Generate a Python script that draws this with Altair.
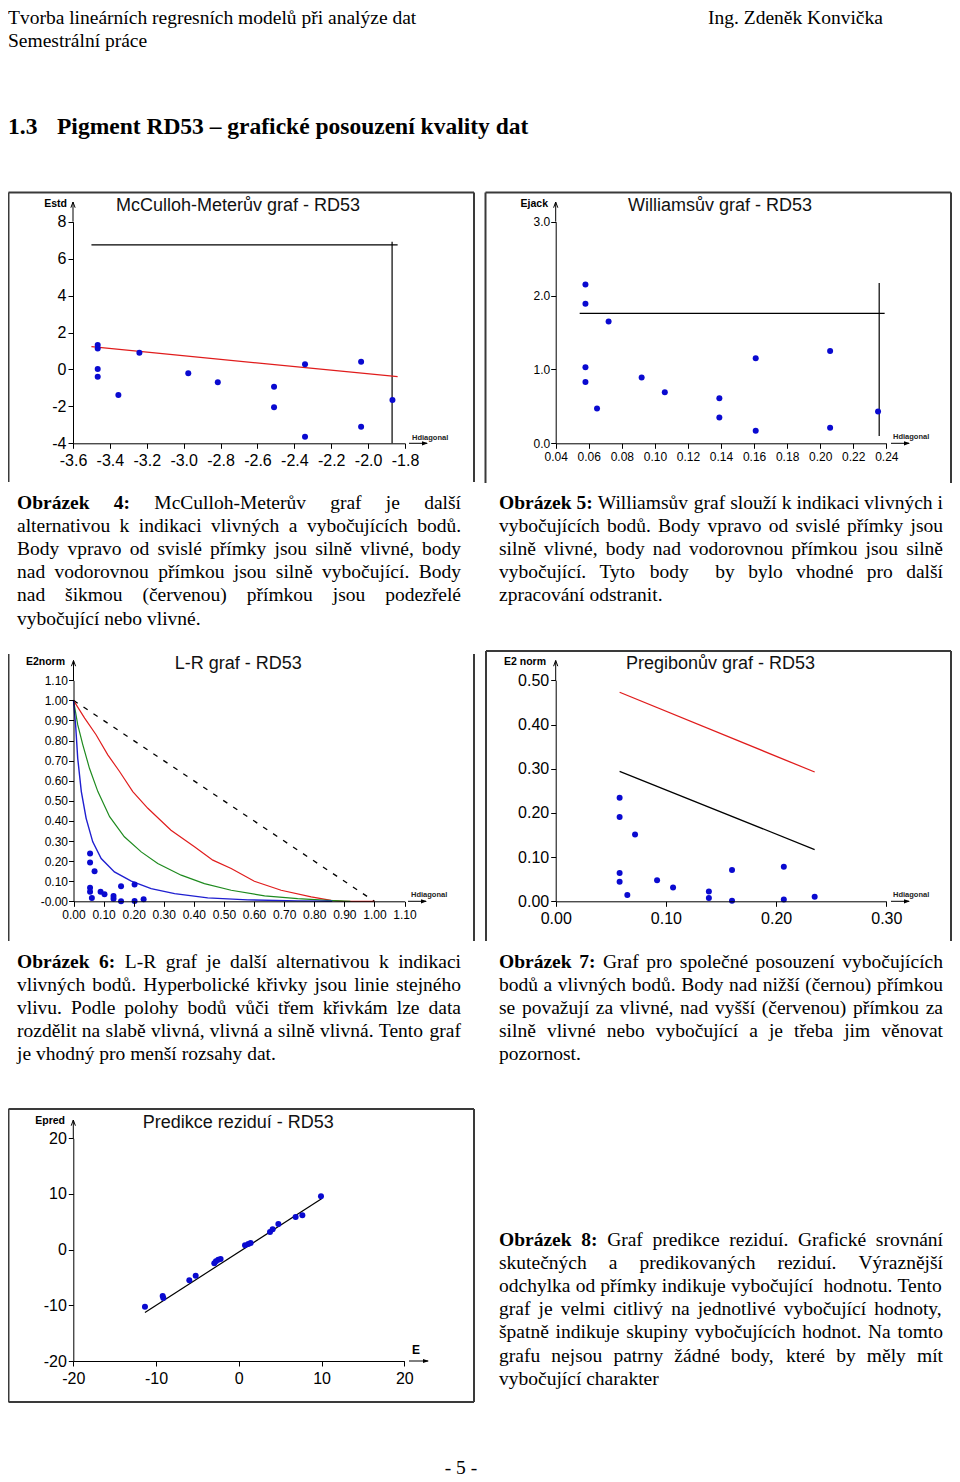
import unicodedata
import altair as alt
import pandas as pd

# ------------------------------------------------------------------ data
# Obrazek 4 - McCulloh-Meter plot
mc_hat = [-3.466, -3.466, -3.466, -3.466, -3.354, -3.240, -2.975, -2.815,
          -2.510, -2.510, -2.342, -2.342, -2.038, -2.038, -1.868]
mc_estd = [1.32, 1.14, 0.02, -0.39, -1.39, 0.90, -0.21, -0.70,
           -0.94, -2.05, 0.28, -3.64, 0.42, -3.10, -1.66]
mc_red_hat = [-3.50, -1.84]
mc_red_estd = [1.23, -0.39]
mc_hlim_hat = [-3.50, -1.84]
mc_hlim_estd = [6.74, 6.74]
mc_vlim_hat = [-1.87, -1.87]
mc_vlim_estd = [-4.0, 6.91]
mc_xticks = [-3.6, -3.4, -3.2, -3.0, -2.8, -2.6, -2.4, -2.2, -2.0, -1.8]
mc_yticks = [-4, -2, 0, 2, 4, 6, 8]

# Obrazek 5 - Williams plot
wi_hat = [0.058, 0.058, 0.058, 0.058, 0.065, 0.072, 0.092, 0.106,
          0.139, 0.139, 0.161, 0.161, 0.206, 0.206, 0.235]
wi_ejack = [2.15, 1.89, 1.03, 0.83, 0.47, 1.65, 0.89, 0.69,
            0.61, 0.35, 1.15, 0.17, 1.25, 0.21, 0.43]
wi_hlim_hat = [0.0545, 0.239]
wi_hlim_e = [1.76, 1.76]
wi_vlim_hat = [0.2357, 0.2357]
wi_vlim_e = [0.10, 2.17]
wi_xticks = [0.04, 0.06, 0.08, 0.10, 0.12, 0.14, 0.16, 0.18, 0.20, 0.22, 0.24]
wi_yticks = [0.0, 1.0, 2.0, 3.0]

# Obrazek 6 - L-R plot
lr_hat = [0.055, 0.055, 0.070, 0.055, 0.055, 0.061, 0.090, 0.103,
          0.133, 0.133, 0.158, 0.158, 0.203, 0.203, 0.233]
lr_e2 = [0.238, 0.193, 0.150, 0.068, 0.047, 0.017, 0.047, 0.035,
         0.027, 0.013, 0.075, 0.000, 0.083, 0.002, 0.010]
lr_red_h = [0.0, 0.037, 0.075, 0.114, 0.153, 0.197, 0.247, 0.324, 0.402,
            0.463, 0.524, 0.601, 0.690, 0.790, 0.856, 0.900, 1.000]
lr_red_e = [1.0, 0.912, 0.829, 0.729, 0.646, 0.546, 0.463, 0.354, 0.271,
            0.205, 0.163, 0.100, 0.055, 0.022, 0.005, 0.0, 0.0]
lr_green_h = [0.0, 0.014, 0.031, 0.053, 0.081, 0.120, 0.169, 0.225, 0.280,
              0.358, 0.435, 0.524, 0.635, 0.745, 0.845, 0.920]
lr_green_e = [1.0, 0.879, 0.779, 0.662, 0.546, 0.421, 0.321, 0.246, 0.188,
              0.130, 0.088, 0.055, 0.027, 0.013, 0.005, 0.0]
lr_blue_h = [0.0, 0.007, 0.014, 0.026, 0.042, 0.064, 0.092, 0.136, 0.192,
             0.258, 0.336, 0.446, 0.579, 0.745, 0.860]
lr_blue_e = [1.0, 0.879, 0.712, 0.546, 0.413, 0.296, 0.213, 0.146, 0.100,
             0.063, 0.038, 0.017, 0.007, 0.002, 0.0]
lr_dash_h = [0.0, 1.0]
lr_dash_e = [1.0, 0.0]
lr_ticks = [0.0, 0.1, 0.2, 0.3, 0.4, 0.5, 0.6, 0.7, 0.8, 0.9, 1.0, 1.1]

# Obrazek 7 - Pregibon plot
pr_hat = [0.058, 0.058, 0.058, 0.058, 0.065, 0.072, 0.092, 0.1065,
          0.139, 0.139, 0.160, 0.160, 0.207, 0.207, 0.235]
pr_e2 = [0.2345, 0.191, 0.064, 0.044, 0.014, 0.151, 0.0475, 0.031,
         0.022, 0.0075, 0.071, 0.001, 0.078, 0.004, 0.0105]
pr_red_h = [0.058, 0.235]
pr_red_e = [0.473, 0.2925]
pr_black_h = [0.058, 0.235]
pr_black_e = [0.294, 0.117]
pr_xticks = [0.0, 0.1, 0.2, 0.3]
pr_yticks = [0.0, 0.1, 0.2, 0.3, 0.4, 0.5]

# Obrazek 8 - residual prediction
pe_e = [-11.34, -9.20, -9.12, -5.98, -5.21, -2.96, -2.76, -2.48, -2.20,
        0.75, 1.15, 1.43, 3.77, 4.09, 4.78, 6.87, 7.68, 9.93]
pe_pred = [-10.24, -8.33, -8.69, -5.51, -4.67, -2.46, -2.10, -1.80, -1.68,
           0.77, 1.01, 1.19, 3.17, 3.65, 4.61, 5.87, 6.17, 9.57]
pe_line_e = [-11.34, 10.0]
pe_line_pred = [-11.3, 9.16]
pe_ticks = [-20, -10, 0, 10, 20]

# page texts
header_left = ["Tvorba lineárních regresních modelů při analýze dat", "Semestrální práce"]
header_right = "Ing. Zdeněk Konvička"
heading_num = "1.3"
heading_text = "Pigment RD53 – grafické posouzení kvality dat"
footer = "- 5 -"
titles = ["McCulloh-Meterův graf - RD53", "Williamsův graf - RD53", "L-R graf - RD53",
          "Pregibonův graf - RD53", "Predikce reziduí - RD53"]
ylabels = ["Estd", "Ejack", "E2norm", "E2 norm", "Epred"]
cap4 = [("Obrázek 4:", "McCulloh-Meterův graf je další"),
        ("", "alternativou k indikaci vlivných a vybočujících bodů."),
        ("", "Body vpravo od svislé přímky jsou silně vlivné, body"),
        ("", "nad vodorovnou přímkou jsou silně vybočující. Body"),
        ("", "nad šikmou (červenou) přímkou jsou podezřelé"),
        ("", "vybočující nebo vlivné.")]
cap5 = [("Obrázek 5:", "Williamsův graf slouží k indikaci vlivných i"),
        ("", "vybočujících bodů. Body vpravo od svislé přímky jsou"),
        ("", "silně vlivné, body nad vodorovnou přímkou jsou silně"),
        ("", "vybočující. Tyto body  by bylo vhodné pro další"),
        ("", "zpracování odstranit.")]
cap6 = [("Obrázek 6:", "L-R graf je další alternativou k indikaci"),
        ("", "vlivných bodů. Hyperbolické křivky jsou linie stejného"),
        ("", "vlivu. Podle polohy bodů vůči třem křivkám lze data"),
        ("", "rozdělit na slabě vlivná, vlivná a silně vlivná. Tento graf"),
        ("", "je vhodný pro menší rozsahy dat.")]
cap7 = [("Obrázek 7:", "Graf pro společné posouzení vybočujících"),
        ("", "bodů a vlivných bodů. Body nad nižší (černou) přímkou"),
        ("", "se považují za vlivné, nad vyšší (červenou) přímkou za"),
        ("", "silně vlivné nebo vybočující a je třeba jim věnovat"),
        ("", "pozornost.")]
cap8 = [("Obrázek 8:", "Graf predikce reziduí. Grafické srovnání"),
        ("", "skutečných a predikovaných reziduí. Výraznější"),
        ("", "odchylka od přímky indikuje vybočující  hodnotu. Tento"),
        ("", "graf je velmi citlivý na jednotlivé vybočující hodnoty,"),
        ("", "špatně indikuje skupiny vybočujících hodnot. Na tomto"),
        ("", "grafu nejsou patrny žádné body, které by měly mít"),
        ("", "vybočující charakter")]

# ------------------------------------------------------------------ styling
W, H = 944, 1474
SERIF = "Liberation Serif"
SANS = "Liberation Sans"
BODY = 19.5
LEAD = 23.2
PT_BLUE = "#0a0ad0"
RED = "#e01c1c"
GREEN = "#1e8a1e"
LBLUE = "#1f1fd0"

REG_W = {' ': 250, '(': 333, ')': 333, ',': 250, '-': 333, '.': 250, ':': 278, ';': 278, '–': 500,
         'A': 722, 'B': 667, 'C': 667, 'D': 722, 'E': 611, 'F': 556, 'G': 722, 'H': 722, 'I': 333,
         'J': 389, 'K': 722, 'L': 611, 'M': 889, 'N': 722, 'O': 722, 'P': 556, 'Q': 722, 'R': 667,
         'S': 556, 'T': 611, 'U': 722, 'V': 722, 'W': 944, 'X': 722, 'Y': 722, 'Z': 611,
         'a': 444, 'b': 500, 'c': 444, 'd': 500, 'e': 444, 'f': 333, 'g': 500, 'h': 500, 'i': 278,
         'j': 278, 'k': 500, 'l': 278, 'm': 778, 'n': 500, 'o': 500, 'p': 500, 'q': 500, 'r': 333,
         's': 389, 't': 278, 'u': 500, 'v': 500, 'w': 722, 'x': 500, 'y': 500, 'z': 444}
BOLD_W = {' ': 250, ':': 333, '.': 250, ',': 250, '-': 333, 'O': 778, 'P': 611, 'R': 722, 'D': 722,
          'a': 500, 'b': 556, 'c': 444, 'd': 556, 'e': 444, 'f': 333, 'g': 500, 'h': 556, 'i': 278,
          'j': 333, 'k': 556, 'l': 278, 'm': 833, 'n': 556, 'o': 500, 'p': 556, 'q': 556, 'r': 444,
          's': 389, 't': 333, 'u': 556, 'v': 500, 'w': 722, 'x': 500, 'y': 500, 'z': 444}


def char_w(c, bold):
    table = BOLD_W if bold else REG_W
    if c.isdigit():
        return 500
    if c in table:
        return table[c]
    base = unicodedata.normalize("NFD", c)[0]
    return table.get(base, 500)


def word_w(w, bold):
    return sum(char_w(c, bold) for c in w) / 1000.0 * BODY


def justify(lines, x0, x1, y0):
    reg, bold = [], []
    for i, (bp, rest) in enumerate(lines):
        toks = ([(w, True) for w in bp.split(' ')] if bp else []) + [(w, False) for w in rest.split(' ')]
        widths = [word_w(w, b) for w, b in toks]
        space = 0.25 * BODY
        gaps = len(toks) - 1
        natural = sum(widths) + gaps * space
        last = i == len(lines) - 1
        gap = space if (last or gaps == 0) else space + (x1 - x0 - natural) / gaps
        x = x0
        y = y0 + i * LEAD
        for (w, b), wd in zip(toks, widths):
            if w:
                (bold if b else reg).append((x, y, w))
            x += wd + gap
    return reg, bold


def text_layer(rows, font, size, weight="normal", align="left", color="#000"):
    df = pd.DataFrame(rows, columns=["x", "y", "t"])
    return alt.Chart(df).mark_text(font=font, fontSize=size, fontWeight=weight, align=align,
                                   baseline="alphabetic", color=color).encode(
        x=alt.X("x:Q", scale=None), y=alt.Y("y:Q", scale=None), text="t:N")


def rule_layer(rows, color, width):
    df = pd.DataFrame(rows, columns=["x", "y", "x2", "y2"])
    return alt.Chart(df).mark_rule(color=color, strokeWidth=width).encode(
        x=alt.X("x:Q", scale=None), y=alt.Y("y:Q", scale=None), x2="x2:Q", y2="y2:Q")


def head_layer(rows, shape, filled):
    df = pd.DataFrame(rows, columns=["x", "y"])
    return alt.Chart(df).mark_point(shape=shape, size=36, filled=filled, color="#000",
                                    strokeWidth=1, opacity=1).encode(
        x=alt.X("x:Q", scale=None), y=alt.Y("y:Q", scale=None))


def neg_expr(fmt):
    return "(datum.value < 0 ? '-' : '') + format(abs(datum.value), '%s')" % fmt


def axis_x(ypos, values, expr, size, pad):
    return alt.Axis(orient="bottom", offset=ypos - H, values=values, labelExpr=expr, title=None,
                    grid=False, domainColor="#000", domainWidth=1, tickColor="#000", tickWidth=1,
                    tickSize=5, labelFont=SANS, labelFontSize=size, labelColor="#000",
                    labelPadding=pad, labelOverlap=False, labelFlush=False, zindex=1)


def axis_y(xpos, values, expr, size, pad):
    return alt.Axis(orient="left", offset=-xpos, values=values, labelExpr=expr, title=None,
                    grid=False, domainColor="#000", domainWidth=1, tickColor="#000", tickWidth=1,
                    tickSize=5, labelFont=SANS, labelFontSize=size, labelColor="#000",
                    labelPadding=pad, labelOverlap=False, labelFlush=False, zindex=1)


def sc(dom, rng):
    return alt.Scale(domain=dom, range=rng, nice=False, zero=False)


def line(xv, yv, xs, ys, color, width=1.2, dash=None):
    df = pd.DataFrame({"a": xv, "b": yv})
    kw = dict(color=color, strokeWidth=width)
    if dash:
        kw["strokeDash"] = dash
    return alt.Chart(df).mark_line(**kw).encode(
        x=alt.X("a:Q", scale=xs, axis=None), y=alt.Y("b:Q", scale=ys, axis=None), order="a:Q")


def points(xv, yv, xs, ys, xa, ya):
    df = pd.DataFrame({"a": xv, "b": yv})
    return alt.Chart(df).mark_circle(size=36, color=PT_BLUE, opacity=1).encode(
        x=alt.X("a:Q", scale=xs, axis=xa), y=alt.Y("b:Q", scale=ys, axis=ya))


# ------------------------------------------------------------------ panels (view coords = page - 8)
xsA, ysA = sc([-3.6, -1.8], [65, 397]), sc([-4, 8], [435.3, 213.7])
panelA = [
    line(mc_hlim_hat, mc_hlim_estd, xsA, ysA, "#000", 1.2),
    line(mc_vlim_hat, mc_vlim_estd, xsA, ysA, "#000", 1.2),
    line(mc_red_hat, mc_red_estd, xsA, ysA, RED, 1.3),
    points(mc_hat, mc_estd, xsA, ysA,
           axis_x(435.3, mc_xticks, neg_expr(".1f"), 16, 4),
           axis_y(65, mc_yticks, neg_expr(".0f"), 16, 2)),
]

xsB, ysB = sc([0.04, 0.24], [547.7, 878.3]), sc([0, 3], [435.3, 213.7])
panelB = [
    line(wi_hlim_hat, wi_hlim_e, xsB, ysB, "#000", 1.2),
    line(wi_vlim_hat, wi_vlim_e, xsB, ysB, "#000", 1.2),
    points(wi_hat, wi_ejack, xsB, ysB,
           axis_x(435.3, wi_xticks, "format(datum.value, '.2f')", 12, 3),
           axis_y(547.7, wi_yticks, "format(datum.value, '.1f')", 12, 1)),
]

xsC, ysC = sc([0, 1.1], [65.5, 396.5]), sc([0, 1.1], [893.3, 672.3])
panelC = [
    line(lr_dash_h, lr_dash_e, xsC, ysC, "#000", 1.3, [5, 7]),
    line(lr_red_h, lr_red_e, xsC, ysC, RED, 1.2),
    line(lr_green_h, lr_green_e, xsC, ysC, GREEN, 1.2),
    line(lr_blue_h, lr_blue_e, xsC, ysC, LBLUE, 1.4),
    points(lr_hat, lr_e2, xsC, ysC,
           axis_x(893.3, lr_ticks, "format(datum.value, '.2f')", 12, 3),
           axis_y(65.5, lr_ticks, "datum.value == 0 ? '-0.00' : format(datum.value, '.2f')", 12, 1)),
]

xsD, ysD = sc([0, 0.3], [547.7, 878.3]), sc([0, 0.5], [893.3, 672.3])
panelD = [
    line(pr_red_h, pr_red_e, xsD, ysD, RED, 1.3),
    line(pr_black_h, pr_black_e, xsD, ysD, "#000", 1.2),
    points(pr_hat, pr_e2, xsD, ysD,
           axis_x(893.3, pr_xticks, "format(datum.value, '.2f')", 16, 4),
           axis_y(547.7, pr_yticks, "format(datum.value, '.2f')", 16, 2)),
]

xsE, ysE = sc([-20, 20], [65.3, 396.3]), sc([-20, 20], [1353, 1130.3])
panelE = [
    line(pe_line_e, pe_line_pred, xsE, ysE, "#000", 1.2),
    points(pe_e, pe_pred, xsE, ysE,
           axis_x(1353, pe_ticks, neg_expr(".0f"), 16, 4),
           axis_y(65.3, pe_ticks, neg_expr(".0f"), 16, 2)),
]

# ------------------------------------------------------------------ page text & decoration
r4, b4 = justify(cap4, 9, 453, 500.5)
r5, b5 = justify(cap5, 491, 935, 500.5)
r6, b6 = justify(cap6, 9, 453, 959.5)
r7, b7 = justify(cap7, 491, 935, 959.5)
r8, b8 = justify(cap8, 491, 935, 1237.5)

body_rows = r4 + r5 + r6 + r7 + r8 + [(0, 16, header_left[0]), (0, 39, header_left[1]),
                                        (700, 16, header_right)]
bold_rows = b4 + b5 + b6 + b7 + b8

frames = [
    (0.5, 184.5, 466, 184.5), (0.5, 184.5, 0.5, 474), (466, 184.5, 466, 474),
    (477.5, 184.5, 943, 184.5), (477.5, 184.5, 477.5, 475), (943, 184.5, 943, 475),
    (0.5, 646, 0.5, 933), (466, 646, 466, 933),
    (478, 643, 943, 643), (478, 643, 478, 933), (943, 643, 943, 933),
    (0.5, 1101, 466, 1101), (0.5, 1394, 466, 1394), (0.5, 1101, 0.5, 1394), (466, 1101, 466, 1394),
]
ext = [
    (65, 213.7, 65, 194), (401, 435.3, 419, 435.3),
    (547.7, 213.7, 547.7, 194), (883, 435.3, 901, 435.3),
    (65.5, 672.3, 65.5, 652.5), (400, 893.3, 418, 893.3),
    (547.7, 672.3, 547.7, 652.5), (883, 893.3, 901, 893.3),
    (65.3, 1130.3, 65.3, 1112), (401, 1353, 420, 1353),
]
ups = [(65, 197), (547.7, 197), (65.5, 655.5), (547.7, 655.5), (65.3, 1115)]
rights = [(417, 435.3), (899, 435.3), (416, 893.3), (899, 893.3), (418, 1353)]

page = [
    rule_layer(frames, "#3a3a3a", 2),
    rule_layer(ext, "#000", 1),
    head_layer(ups, "M-0.7,0.9L0,-1L0.7,0.9", False),
    head_layer(rights, "M-1,-0.7L1,0L-1,0.7Z", True),
    text_layer(body_rows, SERIF, BODY),
    text_layer(bold_rows, SERIF, BODY, "bold"),
    text_layer([(0, 126, heading_num), (49, 126, heading_text)], SERIF, 23.5, "bold"),
    text_layer([(453, 1466, footer)], SERIF, BODY, align="center"),
    text_layer([(230, 203.3, titles[0]), (712, 203.3, titles[1]), (230.3, 661.3, titles[2]),
                (712.5, 661.3, titles[3]), (230.3, 1120, titles[4])], SANS, 18, align="center",
               color="#111"),
    text_layer([(59, 199, ylabels[0]), (540, 199, ylabels[1]), (57, 657, ylabels[2]),
                (538, 657, ylabels[3]), (57, 1116, ylabels[4])], SANS, 10.5, "bold", align="right"),
    text_layer([(408, 1346, "E")], SANS, 12, "bold", align="center"),
    text_layer([(404, 432, "Hdiagonal"), (885, 431, "Hdiagonal"), (403, 889, "Hdiagonal"),
                (885, 889, "Hdiagonal")], SANS, 7.5, "bold", color="#222"),
]

chart = alt.layer(*page, *panelA, *panelB, *panelC, *panelD, *panelE).resolve_scale(
    x="independent", y="independent"
).resolve_axis(
    x="independent", y="independent"
).properties(
    width=W, height=H, padding=0, autosize=alt.AutoSizeParams(type="none")
).configure_view(stroke=None)

chart.save("out.html", embed_options={"renderer": "svg", "actions": False})
